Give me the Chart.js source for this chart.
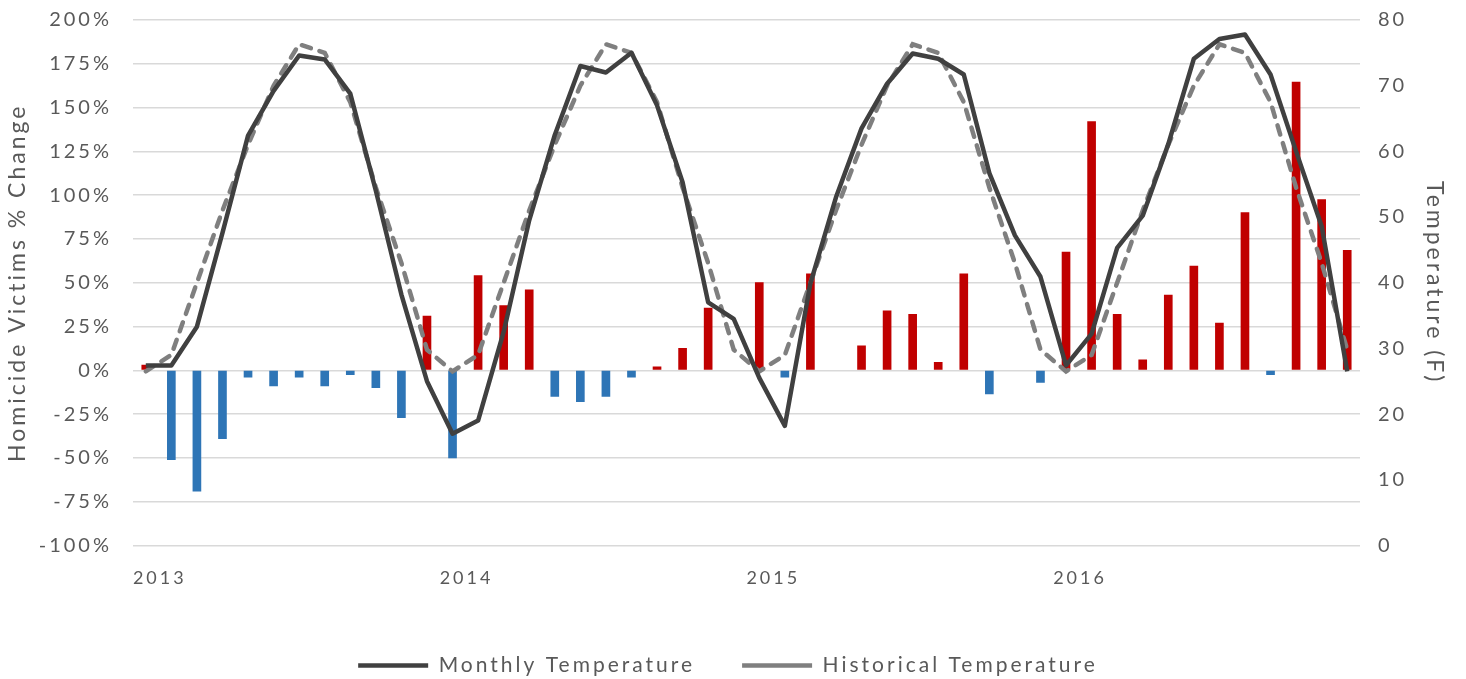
<!DOCTYPE html>
<html>
<head>
<meta charset="utf-8">
<script src="https://cdn.jsdelivr.net/npm/chart.js@4"></script>
<style>
  html, body { margin: 0; padding: 0; background: #ffffff; }
  #wrap { width: 1466px; height: 679px; position: relative; }
</style>
</head>
<body>
<div id="wrap"><canvas id="c"></canvas></div>
<script>
const months = [
  'Jan 2013','Feb 2013','Mar 2013','Apr 2013','May 2013','Jun 2013','Jul 2013','Aug 2013','Sep 2013','Oct 2013','Nov 2013','Dec 2013',
  'Jan 2014','Feb 2014','Mar 2014','Apr 2014','May 2014','Jun 2014','Jul 2014','Aug 2014','Sep 2014','Oct 2014','Nov 2014','Dec 2014',
  'Jan 2015','Feb 2015','Mar 2015','Apr 2015','May 2015','Jun 2015','Jul 2015','Aug 2015','Sep 2015','Oct 2015','Nov 2015','Dec 2015',
  'Jan 2016','Feb 2016','Mar 2016','Apr 2016','May 2016','Jun 2016','Jul 2016','Aug 2016','Sep 2016','Oct 2016','Nov 2016','Dec 2016'
];
const yearTickLabels = ['2013', '2014', '2015', '2016'];

const homicideChange = [
  3, -51, -69, -39, -4, -9, -4, -9, -2.5, -10, -27, 31,
  -50, 54, 37, 46, -15, -18, -15, -4, 2, 12.5, 35.5, 0,
  50, -4, 55, 0, 14, 34, 32, 4.5, 55, -13.5, 0, -7,
  67.5, 142, 32, 6, 43, 59.5, 27, 90, -2.5, 164.5, 97.5, 68.5
];

const monthlyTemperature = [
  27.4, 27.4, 33.3, 47.6, 62.4, 69.2, 74.6, 74.0, 68.8, 54.0, 38.2, 25.0,
  17.0, 19.0, 32.5, 49.5, 62.5, 73.0, 72.0, 75.0, 67.0, 55.3, 37.0, 34.5,
  25.5, 18.2, 39.9, 53.0, 63.5, 70.3, 74.9, 74.1, 71.7, 56.7, 47.2, 40.9,
  27.4, 32.2, 45.3, 50.2, 61.1, 74.1, 77.1, 77.8, 71.7, 60.0, 48.6, 26.5
];

const historicalTemperature = [
  26.5, 29.0, 40.0, 51.0, 61.0, 70.0, 76.3, 75.0, 67.5, 54.5, 43.0, 29.8,
  26.5, 29.0, 40.0, 51.0, 61.0, 70.0, 76.3, 75.0, 67.5, 54.5, 43.0, 29.8,
  26.5, 29.0, 40.0, 51.0, 61.0, 70.0, 76.3, 75.0, 67.5, 54.5, 43.0, 29.8,
  26.5, 29.0, 40.0, 51.0, 61.0, 70.0, 76.3, 75.0, 67.5, 54.5, 43.0, 29.8
];

const FONT = 'Lato, "Open Sans", sans-serif';
const TEXT = '#595959';
const SPACING = '3px';

const spacingPlugin = {
  id: 'spacing',
  beforeUpdate(chart) { chart.ctx.letterSpacing = SPACING; },
  beforeLayout(chart) { chart.ctx.letterSpacing = SPACING; },
  beforeDraw(chart) { chart.ctx.letterSpacing = SPACING; }
};

const PAD = { top: 20, left: 4, right: 14, bottom: -7 };

new Chart(document.getElementById('c'), {
  data: {
    labels: months,
    datasets: [
      {
        type: 'line',
        label: 'Monthly Temperature',
        data: monthlyTemperature,
        yAxisID: 'yT',
        borderColor: '#404040',
        backgroundColor: '#404040',
        borderWidth: 4.5,
        pointRadius: 0,
        tension: 0,
        order: 0,
        borderJoinStyle: 'round'
      },
      {
        type: 'line',
        label: 'Historical Temperature',
        data: historicalTemperature,
        yAxisID: 'yT',
        borderColor: '#7f7f7f',
        backgroundColor: '#7f7f7f',
        borderWidth: 4.5,
        borderDash: [9.5, 9],
        borderCapStyle: 'round',
        pointRadius: 0,
        tension: 0,
        order: 1
      },
      {
        type: 'bar',
        label: 'Homicide Victims % Change',
        data: homicideChange,
        yAxisID: 'yP',
        backgroundColor: (ctx) => (ctx.raw === 0 ? 'rgba(0,0,0,0)' : (ctx.raw > 0 ? '#C00000' : '#2E75B6')),
        borderWidth: 0,
        barThickness: 8,
        order: 2
      }
    ]
  },
  options: {
    responsive: true,
    maintainAspectRatio: false,
    animation: false,
    layout: { padding: PAD },
    plugins: {
      tooltip: { enabled: false },
      legend: {
        position: 'bottom',
        labels: {
          filter: (item) => item.datasetIndex !== 2,
          usePointStyle: true,
          pointStyle: 'line',
          pointStyleWidth: 70,
          boxHeight: 20,
          color: TEXT,
          font: { family: FONT, size: 21 },
          padding: 47
        }
      }
    },
    scales: {
      x: {
        offset: true,
        grid: { display: false, drawTicks: false },
        border: { display: false },
        afterFit: (axis) => { axis.height -= 3; },
        ticks: {
          autoSkip: false,
          maxRotation: 0,
          minRotation: 0,
          padding: 22,
          labelOffset: 14,
          color: TEXT,
          font: { family: FONT, size: 18 },
          callback: function (value, index) {
            return index % 12 === 0 ? yearTickLabels[index / 12] : '';
          }
        }
      },
      yP: {
        position: 'left',
        min: -100,
        max: 200,
        afterFit: (axis) => { axis.width = 133 - PAD.left; axis.paddingTop = 0; axis.paddingBottom = 0; },
        grid: { color: '#d9d9d9', lineWidth: 1.5, drawTicks: false },
        border: { display: false },
        ticks: {
          stepSize: 25,
          padding: 21,
          color: TEXT,
          font: { family: FONT, size: 20 },
          callback: (v) => v + '%'
        },
        title: {
          display: true,
          text: 'Homicide Victims % Change',
          color: TEXT,
          font: { family: FONT, size: 23 },
          padding: { top: 0, bottom: 4 }
        }
      },
      yT: {
        position: 'right',
        min: 0,
        max: 80,
        afterFit: (axis) => { axis.width = 1466 - 1360 - PAD.right; axis.paddingTop = 0; axis.paddingBottom = 0; },
        grid: { display: false, drawTicks: false },
        border: { display: false },
        ticks: {
          stepSize: 10,
          padding: 18,
          color: TEXT,
          font: { family: FONT, size: 20 }
        },
        title: {
          display: true,
          text: 'Temperature (F)',
          color: TEXT,
          font: { family: FONT, size: 23 },
          padding: { top: 4, bottom: 0 }
        }
      }
    }
  },
  plugins: [spacingPlugin]
});
</script>
</body>
</html>
